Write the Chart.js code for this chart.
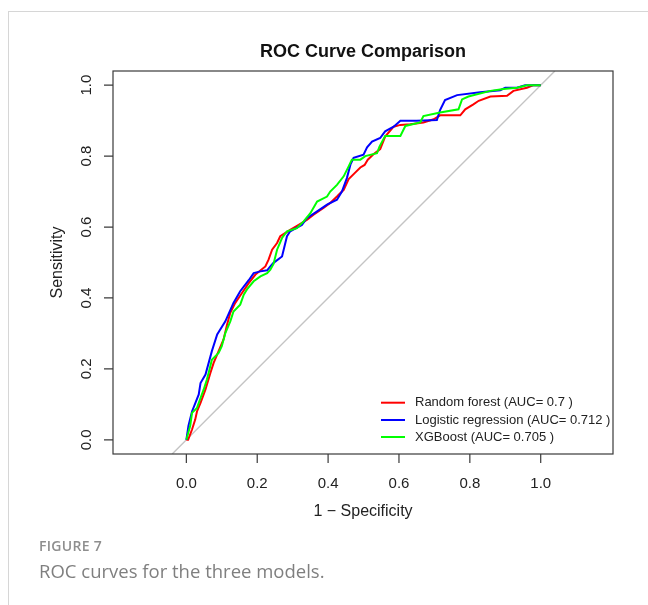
<!DOCTYPE html>
<html>
<head>
<meta charset="utf-8">
<script src="https://cdn.jsdelivr.net/npm/chart.js@4.4.1/dist/chart.umd.min.js"></script>
<style>
  body { margin: 0; background: #fff; width: 648px; height: 605px; overflow: hidden; position: relative; }
  #frame { position: absolute; left: 8px; top: 11px; width: 660px; height: 620px; border: 1px solid #d6d6d6; }
  #myChart { position: absolute; left: 0; top: 0; }
  .fig { position: absolute; left: 39px; top: 536px; font: 600 14px 'Open Sans'; color: #8e8e8e; letter-spacing: 0.3px; }
  .cap { position: absolute; left: 39px; top: 558px; font: 18.5px 'Open Sans'; color: #7f7f7f; }
</style>
</head>
<body>
<div id="frame"></div>
<canvas id="myChart" width="648" height="605"></canvas>
<div class="fig">FIGURE 7</div>
<div class="cap">ROC curves for the three models.</div>
<script>
// 1 - specificity / sensitivity
const rfX = [0, 0.005, 0.016, 0.025, 0.03, 0.04, 0.054, 0.068, 0.077, 0.091, 0.105, 0.115, 0.124, 0.138, 0.157, 0.176, 0.195, 0.223, 0.232, 0.242, 0.256, 0.265, 0.293, 0.317, 0.34, 0.359, 0.387, 0.406, 0.425, 0.444, 0.458, 0.475, 0.491, 0.503, 0.512, 0.528, 0.547, 0.561, 0.585, 0.604, 0.632, 0.669, 0.698, 0.716, 0.773, 0.787, 0.81, 0.825, 0.858, 0.905, 0.923, 0.961, 0.98, 1]
const rfY = [0, 0, 0.029, 0.057, 0.08, 0.104, 0.142, 0.189, 0.217, 0.25, 0.283, 0.325, 0.358, 0.386, 0.414, 0.442, 0.466, 0.489, 0.508, 0.536, 0.555, 0.574, 0.592, 0.606, 0.62, 0.635, 0.654, 0.668, 0.686, 0.705, 0.735, 0.752, 0.768, 0.775, 0.79, 0.805, 0.82, 0.855, 0.883, 0.888, 0.89, 0.895, 0.904, 0.915, 0.915, 0.932, 0.946, 0.956, 0.968, 0.97, 0.984, 0.993, 1, 1]

const lrX = [0, 0.006, 0.016, 0.035, 0.04, 0.054, 0.072, 0.087, 0.11, 0.133, 0.152, 0.176, 0.19, 0.209, 0.228, 0.237, 0.246, 0.27, 0.284, 0.293, 0.326, 0.34, 0.369, 0.397, 0.425, 0.439, 0.453, 0.463, 0.472, 0.5, 0.51, 0.524, 0.547, 0.561, 0.585, 0.604, 0.65, 0.707, 0.716, 0.73, 0.764, 0.829, 0.886, 0.9, 0.933, 0.956, 1]
const lrY = [0, 0.04, 0.08, 0.128, 0.16, 0.184, 0.25, 0.297, 0.334, 0.386, 0.419, 0.45, 0.47, 0.475, 0.478, 0.489, 0.499, 0.517, 0.574, 0.588, 0.606, 0.625, 0.644, 0.663, 0.677, 0.7, 0.738, 0.776, 0.795, 0.804, 0.825, 0.841, 0.851, 0.87, 0.883, 0.9, 0.9, 0.902, 0.93, 0.958, 0.972, 0.98, 0.986, 0.993, 0.993, 1, 1]

const xgbX = [0, 0.011, 0.016, 0.03, 0.04, 0.049, 0.058, 0.063, 0.072, 0.091, 0.1, 0.11, 0.124, 0.133, 0.152, 0.162, 0.171, 0.19, 0.209, 0.228, 0.237, 0.246, 0.256, 0.27, 0.284, 0.312, 0.331, 0.35, 0.369, 0.397, 0.406, 0.425, 0.444, 0.458, 0.467, 0.491, 0.505, 0.538, 0.545, 0.561, 0.604, 0.618, 0.66, 0.669, 0.716, 0.768, 0.778, 0.796, 0.858, 0.895, 0.933, 0.961, 1]
const xgbY = [0, 0.04, 0.076, 0.09, 0.118, 0.142, 0.17, 0.189, 0.226, 0.245, 0.264, 0.301, 0.334, 0.362, 0.381, 0.409, 0.424, 0.447, 0.461, 0.47, 0.48, 0.496, 0.536, 0.569, 0.588, 0.597, 0.616, 0.639, 0.672, 0.686, 0.7, 0.719, 0.743, 0.771, 0.79, 0.79, 0.8, 0.808, 0.827, 0.857, 0.857, 0.885, 0.895, 0.913, 0.923, 0.932, 0.96, 0.968, 0.984, 0.989, 0.993, 1, 1]

const diagX = [-0.04, 1.04]
const diagY = [-0.04, 1.04]

const xTicks = [0, 0.2, 0.4, 0.6, 0.8, 1.0]
const yTicks = [0, 0.2, 0.4, 0.6, 0.8, 1.0]
const legendLabels = ['Random forest (AUC= 0.7 )', 'Logistic regression (AUC= 0.712 )', 'XGBoost (AUC= 0.705 )']
const colors = ['#ff0000', '#0000ff', '#00ff00']

function pts(xs, ys) {
    return xs.map((x, i) => ({x: x, y: ys[i]}))
}

const font = "'Liberation Sans', Arial, sans-serif"

// R-style box, ticks, labels and legend
const rAxes = {
    id: 'rAxes',
    afterDraw(chart) {
        const c = chart.ctx
        const a = chart.chartArea
        const xs = chart.scales.x
        const ys = chart.scales.y
        c.save()
        c.strokeStyle = '#3a3a3a'
        c.lineWidth = 1.2
        c.strokeRect(a.left, a.top, a.right - a.left, a.bottom - a.top)
        c.fillStyle = '#222'
        c.font = '15px ' + font
        c.textAlign = 'center'
        c.textBaseline = 'middle'
        c.beginPath()
        for (let t of xTicks) {
            const px = xs.getPixelForValue(t)
            c.moveTo(px, a.bottom)
            c.lineTo(px, a.bottom + 9)
            c.fillText(t.toFixed(1), px, 484)
        }
        for (let t of yTicks) {
            const py = ys.getPixelForValue(t)
            c.moveTo(a.left, py)
            c.lineTo(a.left - 9, py)
        }
        c.stroke()
        for (let t of yTicks) {
            const py = ys.getPixelForValue(t)
            c.save()
            c.translate(87, py)
            c.rotate(-Math.PI / 2)
            c.fillText(t.toFixed(1), 0, 0)
            c.restore()
        }
        c.font = '16px ' + font
        c.fillText('1 \u2212 Specificity', (a.left + a.right) / 2, 512)
        c.save()
        c.translate(58, (a.top + a.bottom) / 2)
        c.rotate(-Math.PI / 2)
        c.fillText('Sensitivity', 0, 0)
        c.restore()
        c.font = 'bold 18px ' + font
        c.fillStyle = '#111'
        c.fillText('ROC Curve Comparison', (a.left + a.right) / 2, 52)

        // legend
        c.font = '13px ' + font
        c.textAlign = 'left'
        c.fillStyle = '#222'
        const ly = [402.7, 420, 437]
        for (let i = 0; i < 3; i++) {
            c.strokeStyle = colors[i]
            c.lineWidth = 2
            c.beginPath()
            c.moveTo(381, ly[i])
            c.lineTo(405, ly[i])
            c.stroke()
            c.fillText(legendLabels[i], 415, ly[i])
        }
        c.restore()
    }
}

const ctx = document.getElementById('myChart')
new Chart(ctx, {
    type: 'scatter',
    data: {
        datasets: [{
            label: 'diag',
            data: pts(diagX, diagY),
            showLine: true,
            borderColor: '#c4c4c4',
            borderWidth: 1.4,
            pointRadius: 0,
            order: 4
        }, {
            label: legendLabels[0],
            data: pts(rfX, rfY),
            showLine: true,
            borderColor: colors[0],
            borderWidth: 2,
            pointRadius: 0,
            order: 3
        }, {
            label: legendLabels[1],
            data: pts(lrX, lrY),
            showLine: true,
            borderColor: colors[1],
            borderWidth: 2,
            pointRadius: 0,
            order: 2
        }, {
            label: legendLabels[2],
            data: pts(xgbX, xgbY),
            showLine: true,
            borderColor: colors[2],
            borderWidth: 2,
            pointRadius: 0,
            order: 1
        }]
    },
    options: {
        responsive: false,
        animation: false,
        devicePixelRatio: 1,
        layout: { padding: { left: 113, right: 35, top: 71, bottom: 151 } },
        plugins: { legend: { display: false }, tooltip: { enabled: false }, title: { display: false } },
        scales: {
            x: { type: 'linear', min: -0.207, max: 1.204, display: false },
            y: { type: 'linear', min: -0.04, max: 1.04, display: false }
        }
    },
    plugins: [rAxes]
})
</script>
</body>
</html>
